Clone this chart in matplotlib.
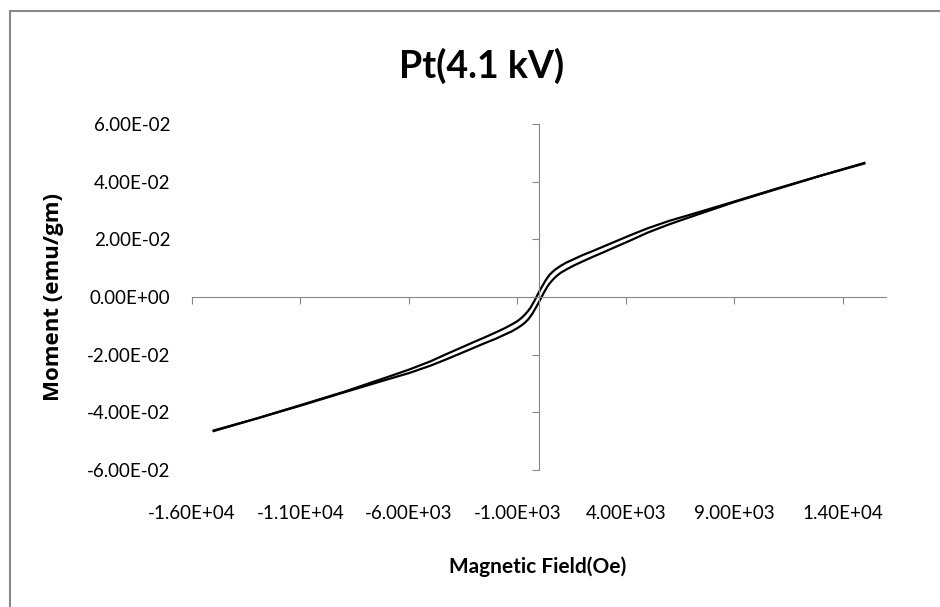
import numpy as np
import matplotlib.pyplot as plt
from matplotlib.patches import Rectangle
from matplotlib.ticker import FuncFormatter

# Hysteresis loop: field in Oe, moment in emu/gm
# branch coming down from +H saturation
field_down = [15000, 13000, 11000, 9000, 7000, 6000, 5000, 4300, 3600, 3000, 2500, 2000, 1600, 1250, 1000,
              800, 650, 500, 400, 300, 200, 100, 0, -100, -200, -300, -400, -500, -650, -800,
              -1000, -1250, -1600, -2000, -2500, -3000, -3600, -4300, -5000, -6000, -7000, -9000, -11000, -13000, -15000]
moment_down = [0.0465, 0.0421, 0.0377, 0.0331, 0.0286, 0.0264, 0.0238, 0.0217, 0.0195, 0.0176, 0.0160, 0.0145, 0.0131, 0.0119, 0.0108,
               0.0098, 0.0089, 0.0078, 0.0068, 0.0057, 0.0044, 0.0031, 0.0017, 0.0003, -0.0012, -0.0025, -0.0038, -0.0048, -0.0061, -0.0072,
               -0.0084, -0.0095, -0.0109, -0.0123, -0.0140, -0.0156, -0.0176, -0.0199, -0.0223, -0.0252, -0.0278, -0.0329, -0.0375, -0.0421, -0.0463]
# branch going back up from -H saturation
field_up = [-15000, -13000, -11000, -9000, -7000, -6000, -5000, -4300, -3600, -3000, -2500, -2000, -1600, -1250, -1000,
            -800, -650, -500, -400, -300, -200, -100, 0, 100, 200, 300, 400, 500, 650, 800,
            1000, 1250, 1600, 2000, 2500, 3000, 3600, 4300, 5000, 6000, 7000, 9000, 11000, 13000, 15000]
moment_up = [-0.0465, -0.0421, -0.0377, -0.0331, -0.0286, -0.0264, -0.0238, -0.0217, -0.0195, -0.0176, -0.0160, -0.0145, -0.0131, -0.0119, -0.0108,
             -0.0098, -0.0089, -0.0078, -0.0068, -0.0057, -0.0044, -0.0031, -0.0017, -0.0003, 0.0012, 0.0025, 0.0038, 0.0048, 0.0061, 0.0072,
             0.0084, 0.0095, 0.0109, 0.0123, 0.0140, 0.0156, 0.0176, 0.0199, 0.0223, 0.0252, 0.0278, 0.0329, 0.0375, 0.0421, 0.0463]

xticks = [-16000, -11000, -6000, -1000, 4000, 9000, 14000]
yticks = [-0.06, -0.04, -0.02, 0.0, 0.02, 0.04, 0.06]

narrow = ['Lato', 'DejaVu Sans']
axis_grey = '#868686'

fig = plt.figure(figsize=(9.4, 6.07), dpi=100)
ax = fig.add_axes([192/940, 1 - 470/607, 694/940, 346/607])

ax.plot(field_down, moment_down, color='black', lw=1.6)
ax.plot(field_up, moment_up, color='black', lw=1.6)

ax.set_xlim(-16000, 16000)
ax.set_ylim(-0.06, 0.06)
ax.set_xticks(xticks)
ax.set_yticks(yticks)
excel_fmt = FuncFormatter(lambda v, pos: '%.2E' % v)
ax.xaxis.set_major_formatter(excel_fmt)
ax.yaxis.set_major_formatter(excel_fmt)

# axes cross at zero, labels stay out at the edges like Excel's "low" labels
ax.spines['top'].set_visible(False)
ax.spines['right'].set_visible(False)
for s in ['left', 'bottom']:
    ax.spines[s].set_position(('data', 0))
    ax.spines[s].set_color(axis_grey)
    ax.spines[s].set_linewidth(0.8)
ax.tick_params(axis='both', direction='out', length=5, width=0.8, color=axis_grey)
ax.tick_params(axis='y', pad=260.6)
ax.tick_params(axis='x', pad=144.7)
for lab in ax.get_xticklabels() + ax.get_yticklabels():
    lab.set_family(narrow)
    lab.set_fontsize(13.5)
    lab.set_color('black')

fig.text(482/940, 1 - 66/607, 'Pt(4.1 kV)', family=narrow, fontweight='bold',
         fontsize=27, ha='center', va='center')
fig.text(538/940, 1 - 567/607, 'Magnetic Field(Oe)', family=narrow, fontweight='bold',
         fontsize=15, ha='center', va='center')
fig.text(54/940, 1 - 297/607, 'Moment (emu/gm)', family=['Open Sans', 'DejaVu Sans'], fontweight='bold',
         fontsize=16, rotation=90, ha='center', va='center')

# chart area border, runs off the right and bottom of the picture
fig.add_artist(Rectangle((10/940, -0.1), 1.1, 1.1 - 11/607, transform=fig.transFigure,
                         fill=False, edgecolor='#898989', lw=1.5))

fig.savefig('out.png', dpi=100)
